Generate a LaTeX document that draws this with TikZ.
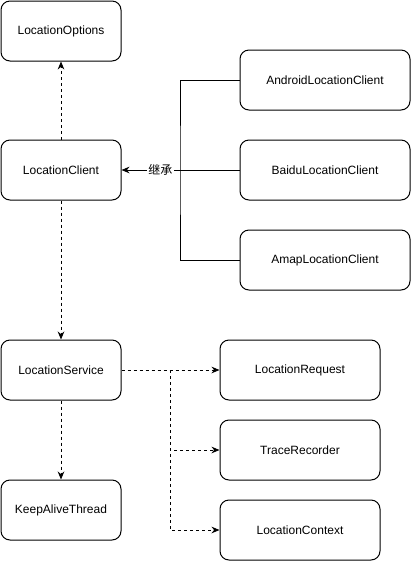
\documentclass[tikz,border=0pt]{standalone}
\usepackage{fontspec}
\setmainfont{Liberation Sans}
\newfontfamily\cjkfont{Noto Sans CJK SC}
\usetikzlibrary{arrows.meta}

\begin{document}
\begin{tikzpicture}[x=0.75pt,y=0.75pt,yscale=-1,xscale=1,
  classbox/.style={draw, rounded corners=6.75pt, line width=0.75pt, inner sep=0pt,
    minimum width=90pt, minimum height=45pt, font=\fontsize{9}{11}\selectfont},
  dep/.style={line width=0.75pt, dash pattern={on 2.25pt off 2.25pt}, -{Stealth[length=6pt,width=5pt]}},
  inherit/.style={line width=0.75pt, -{Stealth[length=6pt,width=5pt]}}]
\useasboundingbox (0,0) rectangle (411,562);

% Classes
\node [classbox] (options) at (61,31) {LocationOptions};
\node [classbox] (client) at (61,170) {LocationClient};
\node [classbox] (service) at (61,370) {LocationService};
\node [classbox] (keepalive) at (61,510) {KeepAliveThread};
\node [classbox, minimum width=127.5pt] (android) at (325,80) {AndroidLocationClient};
\node [classbox, minimum width=127.5pt] (baidu) at (325,170) {BaiduLocationClient};
\node [classbox, minimum width=127.5pt] (amap) at (325,260) {AmapLocationClient};
\node [classbox, minimum width=120pt] (request) at (300,370) {LocationRequest};
\node [classbox, minimum width=120pt] (recorder) at (300,450) {TraceRecorder};
\node [classbox, minimum width=120pt] (context) at (300,530) {LocationContext};

% Inheritance
\coordinate (trunk) at (180,170);
\draw [line width=0.75pt] (android.west) -| (trunk) |- (amap.west);
\draw [inherit] (baidu.west) -- node [pos=0.67, fill=white, inner sep=1pt, font=\fontsize{9}{11}\selectfont] {\cjkfont 继承} (client.east);

% Dependencies
\draw [dep] (client) -- (options);
\draw [dep] (client) -- (service);
\draw [dep] (service) -- (keepalive);
\coordinate (fork) at (170,370);
\draw [dep] (service.east) -- (request.west);
\draw [dep] (fork) |- (recorder.west);
\draw [dep] (fork) |- (context.west);

\end{tikzpicture}
\end{document}
